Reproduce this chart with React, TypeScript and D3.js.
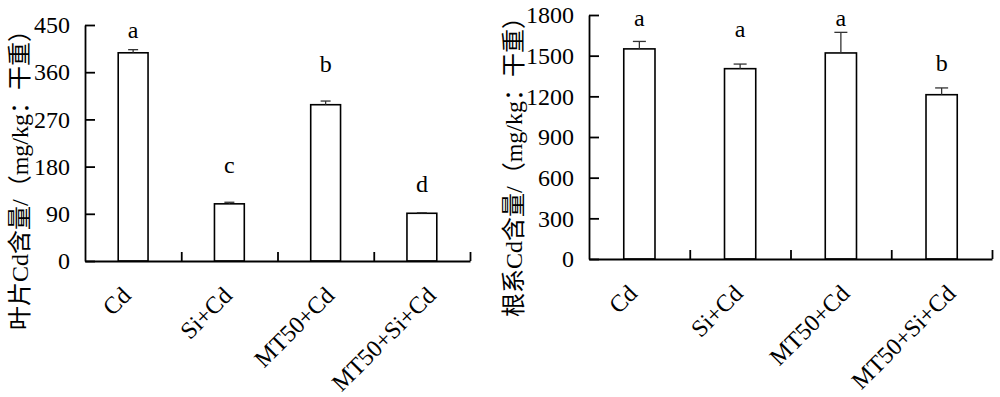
import React, { useEffect, useRef } from 'react';
import * as d3 from 'd3';

// treatments
const categories = ['Cd', 'Si+Cd', 'MT50+Cd', 'MT50+Si+Cd'];

// leaf Cd content (mg/kg DW)
const leafValues = [397, 109, 298, 91];
const leafErrors = [6, 3, 7, 1];
const leafLetters = ['a', 'c', 'b', 'd'];
const leafLetterAt = [426, 167, 361, 132];
const leafTicks = [0, 90, 180, 270, 360, 450];

// root Cd content (mg/kg DW)
const rootValues = [1550, 1404, 1520, 1212];
const rootErrors = [55, 34, 152, 50];
const rootLetters = ['a', 'a', 'a', 'b'];
const rootLetterAt = [1721, 1635, 1721, 1384];
const rootTicks = [0, 300, 600, 900, 1200, 1500, 1800];

const leafTitle = '叶片Cd含量/（mg/kg：干重）';
const rootTitle = '根系Cd含量/（mg/kg：干重）';

const FONT = '"Liberation Serif", "Times New Roman", "Noto Sans CJK SC", serif';
const FS = 24;

interface PanelCfg {
  left: number
  right: number
  top: number
  bottom: number
  values: number[]
  errors: number[]
  letters: string[]
  letterAt: number[]
  ticks: number[]
  title: string
  titleX: number
  titleY: number
  capW: number
}

function drawPanel(svg: d3.Selection<SVGSVGElement, unknown, null, undefined>, c: PanelCfg) {
  const g = svg.append('g');
  const max = c.ticks[c.ticks.length - 1];
  const y = d3.scaleLinear().domain([0, max]).range([c.bottom, c.top]);
  const x = d3.scaleBand().domain(categories).range([c.left, c.right]).paddingInner(0).paddingOuter(0);
  const xl = d3.scaleLinear().domain([0, categories.length]).range([c.left, c.right]);
  const bw = x.bandwidth() * 0.31;

  // bars
  g.selectAll('rect.bar')
    .data(c.values)
    .enter()
    .append('rect')
    .attr('x', (_, i) => x(categories[i])! + x.bandwidth() / 2 - bw / 2)
    .attr('y', d => y(d))
    .attr('width', bw)
    .attr('height', d => c.bottom - y(d))
    .attr('fill', '#fff')
    .attr('stroke', '#000')
    .attr('stroke-width', 1.6);

  // error bars (upper only) + significance letters
  c.values.forEach((v, i) => {
    const cx = x(categories[i])! + x.bandwidth() / 2;
    g.append('line').attr('x1', cx).attr('x2', cx).attr('y1', y(v)).attr('y2', y(v + c.errors[i]))
      .attr('stroke', '#333').attr('stroke-width', 1.3);
    g.append('line').attr('x1', cx - c.capW / 2).attr('x2', cx + c.capW / 2)
      .attr('y1', y(v + c.errors[i])).attr('y2', y(v + c.errors[i]))
      .attr('stroke', '#333').attr('stroke-width', 1.3);
    g.append('text')
      .attr('x', cx)
      .attr('y', y(c.letterAt[i]))
      .attr('text-anchor', 'middle')
      .attr('font-family', FONT)
      .attr('font-size', FS)
      .text(c.letters[i]);
  });

  // y axis
  const ya = g.append('g')
    .attr('transform', `translate(${c.left},0)`)
    .call(d3.axisLeft(y).tickValues(c.ticks).tickFormat(d3.format('d')).tickSizeInner(-10).tickSizeOuter(0).tickPadding(15));
  ya.select('.domain').attr('stroke-width', 1.8);
  ya.selectAll('.tick line').attr('stroke-width', 1.8);
  ya.selectAll('.tick text').attr('font-family', FONT).attr('font-size', FS).attr('fill', '#000');

  // x axis
  const xa = g.append('g')
    .attr('transform', `translate(0,${c.bottom})`)
    .call(d3.axisBottom(xl).tickValues(d3.range(1, categories.length + 1)).tickSizeInner(-9).tickSizeOuter(0).tickFormat(() => ''));
  xa.select('.domain').attr('stroke-width', 1.8);
  xa.selectAll('.tick line').attr('stroke-width', 1.8);

  // category labels, rotated
  categories.forEach(cat => {
    const cx = x(cat)! + x.bandwidth() / 2;
    const t = g.append('text')
      .attr('text-anchor', 'end')
      .attr('font-family', FONT)
      .attr('font-size', FS)
      .text(cat);
    const len = (t.node() as SVGTextElement).getComputedTextLength();
    t.attr('transform', `translate(${cx - 5 + 0.15 * len},${c.bottom + 36}) rotate(-45)`);
  });

  // y title
  g.append('text')
    .attr('transform', `translate(${c.titleX},${c.titleY}) rotate(-90)`)
    .attr('text-anchor', 'middle')
    .attr('font-family', FONT)
    .attr('font-size', FS)
    .text(c.title);
}

export default function App() {
  const ref = useRef<SVGSVGElement>(null);

  useEffect(() => {
    const svg = d3.select(ref.current!);
    svg.selectAll('*').remove();
    drawPanel(svg, {
      left: 85, right: 470, top: 25, bottom: 261,
      values: leafValues, errors: leafErrors, letters: leafLetters, letterAt: leafLetterAt,
      ticks: leafTicks, title: leafTitle, titleX: 28, titleY: 174, capW: 10,
    });
    drawPanel(svg, {
      left: 589, right: 992, top: 15, bottom: 259,
      values: rootValues, errors: rootErrors, letters: rootLetters, letterAt: rootLetterAt,
      ticks: rootTicks, title: rootTitle, titleX: 522, titleY: 161, capW: 13,
    });
  }, []);

  return (
    <svg ref={ref} width={1000} height={397}
      style={{ position: 'absolute', left: 0, top: 0, background: '#fff' }} />
  );
}
